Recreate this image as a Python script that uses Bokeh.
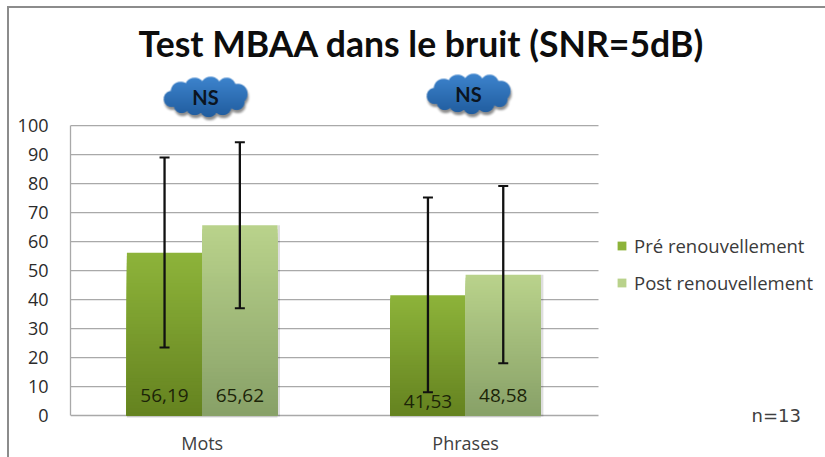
import numpy as np
from bokeh.plotting import figure
from bokeh.embed import file_html
from bokeh.resources import INLINE
from bokeh.models import (Range1d, FixedTicker, Label, Legend, LegendItem)
from bokeh.core.properties import value

categories = ["Mots", "Phrases"]
series_names = ["Pré renouvellement", "Post renouvellement"]
pre_values = [56.19, 41.53]
post_values = [65.62, 48.58]
pre_labels = ["56,19", "41,53"]
post_labels = ["65,62", "48,58"]
pre_err_low = [23.5, 8.0]
pre_err_high = [89.0, 75.2]
post_err_low = [37.0, 18.0]
post_err_high = [94.3, 79.2]
pre_label_y = [7.0, 5.0]
post_label_y = [7.0, 7.0]
cloud_text = ["NS", "NS"]
y_ticks = list(range(0, 101, 10))

# page geometry (the figure sits at x=9, y=8 through its margin)
PX_X = 263.4           # pixels per category
PX_Y = 2.905           # pixels per y unit
BAR = 75.3 / PX_X
FONT = "Open Sans"
FRAME_LEFT, FRAME_TOP, FRAME_BOTTOM, ZERO = 70, 8, 425, 416

p = figure(width=816, height=449, output_backend="svg", toolbar_location=None,
           x_range=Range1d(0, (825 - FRAME_LEFT) / PX_X),
           y_range=Range1d(-(FRAME_BOTTOM - ZERO) / PX_Y, (ZERO - FRAME_TOP) / PX_Y),
           min_border_left=FRAME_LEFT - 9, min_border_right=0, min_border_top=0,
           min_border_bottom=449 - (FRAME_BOTTOM - 8),
           margin=(8, 0, 0, 9),
           styles={"box-shadow": "-1px -1px 0 1px #8c8c8c"})
p.outline_line_color = None
p.background_fill_color = "white"
p.border_fill_color = "white"

# axes + gridlines (gridlines stop at the end of the plot area, not the frame)
p.xgrid.visible = False
p.ygrid.visible = False
p.segment(x0=0, x1=528 / PX_X, y0=y_ticks, y1=y_ticks, line_color="#a9a9a9", line_width=1.3)
p.yaxis.ticker = FixedTicker(ticks=y_ticks)
p.yaxis.bounds = (0, 100)
p.yaxis.axis_line_color = "#a9a9a9"
p.yaxis.axis_line_width = 1.3
p.yaxis.major_tick_line_color = None
p.yaxis.minor_tick_line_color = None
p.yaxis.major_label_standoff = 16
p.yaxis.major_label_text_font = FONT
p.yaxis.major_label_text_font_size = "18px"
p.yaxis.major_label_text_color = "#2b2b2b"
p.xaxis.ticker = FixedTicker(ticks=[0.5, 1.5])
p.xaxis.major_label_overrides = {0.5: categories[0], 1.5: categories[1]}
p.xaxis.axis_line_color = None
p.xaxis.major_tick_line_color = None
p.xaxis.minor_tick_line_color = None
p.xaxis.major_label_standoff = 0
p.xaxis.major_label_text_font = FONT
p.xaxis.major_label_text_font_size = "18px"
p.xaxis.major_label_text_color = "#404040"

centers = np.array([0.5, 1.5])
pre_x = centers - BAR / 2
post_x = centers + BAR / 2


def hex2rgb(h):
    return np.array([int(h[i:i + 2], 16) for i in (1, 3, 5)], float)


def bars(xs, vals, top_col, bot_col):
    """Vertical gradient: nested quads, painted tallest first, so no seams."""
    t, b = hex2rgb(top_col), hex2rgb(bot_col)
    left, right, top, colors = [], [], [], []
    n = 48
    for i in range(n):
        f = 1 - i / n
        c = b + (t - b) * f
        col = "#%02x%02x%02x" % tuple(int(round(v)) for v in c)
        for x, v in zip(xs, vals):
            left.append(x - BAR / 2)
            right.append(x + BAR / 2)
            top.append(v * f)
            colors.append(col)
    return p.quad(left=left, right=right, bottom=0, top=top, fill_color=colors, line_color=None)


# soft bar shadow on the right edge
p.quad(left=[x + BAR / 2 for x in post_x], right=[x + BAR / 2 + 2.5 / PX_X for x in post_x], bottom=-1 / PX_Y,
       top=post_values, fill_color="#000000", fill_alpha=0.13, line_color=None)
p.quad(left=[x - BAR / 2 for x in pre_x], right=[x + BAR / 2 for x in post_x], bottom=-2 / PX_Y,
       top=0, fill_color="#000000", fill_alpha=0.15, line_color=None)
r_pre = bars(pre_x, pre_values, "#8db33a", "#64821f")
r_post = bars(post_x, post_values, "#b9d28b", "#87a067")

# error bars
CAP = 5.0 / PX_X
for xs, lo, hi in ((pre_x, pre_err_low, pre_err_high), (post_x, post_err_low, post_err_high)):
    p.segment(x0=xs, x1=xs, y0=lo, y1=hi, line_color="#111111", line_width=2.3)
    p.segment(x0=xs - CAP, x1=xs + CAP, y0=lo, y1=lo, line_color="#111111", line_width=2)
    p.segment(x0=xs - CAP, x1=xs + CAP, y0=hi, y1=hi, line_color="#111111", line_width=2)

# data labels
p.text(x=pre_x, y=pre_label_y, text=pre_labels, text_align="center", text_baseline="middle",
       text_font=value(FONT), text_font_size="19px", text_color="#1c2408")
p.text(x=post_x, y=post_label_y, text=post_labels, text_align="center", text_baseline="middle",
       text_font=value(FONT), text_font_size="19px", text_color="#1c2408")


# clouds, drawn as small RGBA images with a gradient and a soft shadow
def cloud_image():
    W, H, S = 104, 58, 3
    yy, xx = np.mgrid[0:H * S, 0:W * S]
    xx = xx / S - W / 2
    yy = yy / S - H / 2
    lobes = [(-34, 2, 8), (-25, -5, 10), (-11, -9, 10), (5, -10, 10), (21, -10, 9), (32, -3, 10),
             (31, 5, 8), (17, 9, 9), (3, 11, 9), (-11, 9, 9), (-24, 8, 8),
             (-18, 0, 13), (0, 0, 14), (18, 0, 13)]
    m = np.zeros_like(xx, bool)
    for cx, cy, r in lobes:
        m |= (xx - cx) ** 2 + (yy - cy) ** 2 <= r ** 2
    m = m.reshape(H, S, W, S).mean(axis=(1, 3))
    s = m.copy()
    for _ in range(3):
        s = (s + np.roll(s, 1, 0) + np.roll(s, -1, 0) + np.roll(s, 1, 1) + np.roll(s, -1, 1)) / 5
    s = np.roll(np.roll(s, 3, 0), 1, 1) * 0.45
    top, bot = hex2rgb("#3f86d0"), hex2rgb("#1f5a9c")
    f = np.clip((np.arange(H) - 7) / (H - 14), 0, 1)[:, None, None]
    rgb = top * (1 - f) + bot * f
    alpha = m + s * (1 - m)
    out = np.where(alpha[..., None] > 0, (rgb * m[..., None]) / np.maximum(alpha[..., None], 1e-3), 0)
    img = np.zeros((H, W), dtype=np.uint32)
    view = img.view(dtype=np.uint8).reshape(H, W, 4)
    view[..., :3] = np.clip(out, 0, 255).astype(np.uint8)
    view[..., 3] = np.clip(alpha * 255, 0, 255).astype(np.uint8)
    return img[::-1], W, H


img, W, H = cloud_image()
cloud_x = [(205 - 70) / PX_X, (468 - 70) / PX_X]
cloud_y = [(416 - 97) / PX_Y, (416 - 94) / PX_Y]
for cx, cy in zip(cloud_x, cloud_y):
    p.image_rgba(image=[img], x=cx - W / 2 / PX_X, y=cy - H / 2 / PX_Y, dw=W / PX_X, dh=H / PX_Y)
p.text(x=cloud_x, y=cloud_y, text=cloud_text, text_align="center", text_baseline="middle",
       text_font=value("Lato"), text_font_style="bold", text_font_size="20px", text_color="#0b1420")

# legend
legend = Legend(items=[LegendItem(label=series_names[0], renderers=[r_pre], index=0),
                       LegendItem(label=series_names[1], renderers=[r_post], index=0)],
                location=(546, FRAME_BOTTOM - 296), orientation="vertical",
                glyph_width=11, glyph_height=11, label_height=20, spacing=12, label_standoff=7,
                padding=0, margin=0, background_fill_alpha=0, border_line_color=None,
                label_text_font=FONT, label_text_font_size="18.5px", label_text_color="#3a3a3a")
p.add_layout(legend, "center")

# title, note (positions are counted from the plot frame's lower left corner)
p.add_layout(Label(x=421 - FRAME_LEFT, y=FRAME_BOTTOM - 44, x_units="screen", y_units="screen",
                   text="Test MBAA dans le bruit (SNR=5dB)",
                   text_align="center", text_baseline="middle", text_font="Lato", text_font_style="bold",
                   text_font_size="35.6px", text_color="#0d0d0d"))
p.add_layout(Label(x=751 - FRAME_LEFT, y=FRAME_BOTTOM - 416, x_units="screen", y_units="screen", text="n=13",
                   text_font="DejaVu Sans", text_baseline="middle", text_font_size="18px", text_color="#404040"))

open("out.html", "w").write(file_html(p, INLINE))
